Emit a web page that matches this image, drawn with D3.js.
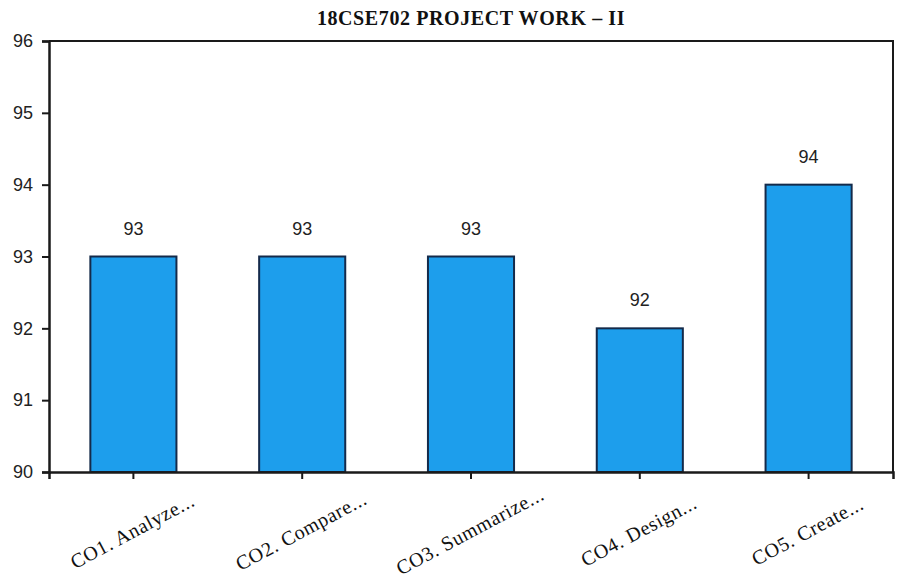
<!DOCTYPE html>
<html>
<head>
<meta charset="utf-8">
<script src="https://cdn.jsdelivr.net/npm/d3@7/dist/d3.min.js"></script>
<style>
  html, body { margin: 0; padding: 0; background: #fff; }
  svg { display: block; }
</style>
</head>
<body>
<svg id="chart" width="899" height="588"></svg>
<script>
const title = "18CSE702 PROJECT WORK \u2013 II";
const categories = ["CO1. Analyze...", "CO2. Compare...", "CO3. Summarize...", "CO4. Design...", "CO5. Create..."];
const values = [93, 93, 93, 92, 94];
const yTicks = [90, 91, 92, 93, 94, 95, 96];
const yDomain = [90, 96];

const svg = d3.select("#chart");
const margin = { left: 49, right: 6, top: 41, bottom: 116 };
const W = 899, H = 588;
const x = d3.scaleBand().domain(categories).range([margin.left, W - margin.right]).paddingInner(0.49).paddingOuter(0.245);
const y = d3.scaleLinear().domain(yDomain).range([H - margin.bottom, margin.top]);

const axisColor = "#1a1a1a";

// bars
svg.append("g").selectAll("rect").data(values).join("rect")
  .attr("x", (d, i) => x(categories[i]))
  .attr("y", d => y(d))
  .attr("width", x.bandwidth())
  .attr("height", d => y(yDomain[0]) - y(d))
  .attr("fill", "#1d9eec")
  .attr("stroke", "#142a4a")
  .attr("stroke-width", 2);

// frame (top/right)
svg.append("path")
  .attr("d", `M${margin.left},${y(96)}H${W - margin.right}V${y(90)}`)
  .attr("fill", "none").attr("stroke", axisColor).attr("stroke-width", 2);

// y axis
const yAxis = svg.append("g").attr("transform", `translate(${margin.left},0)`)
  .call(d3.axisLeft(y).tickValues(yTicks).tickFormat(d3.format("d")).tickSizeOuter(0).tickSize(7).tickPadding(9));
yAxis.select(".domain").attr("stroke", axisColor).attr("stroke-width", 2.5);
yAxis.selectAll(".tick line").attr("stroke", axisColor).attr("stroke-width", 2);
yAxis.selectAll(".tick text").attr("font-family", "'Liberation Sans', Arial, sans-serif")
  .attr("font-size", 18).attr("fill", "#222");

// x axis
const xAxis = svg.append("g").attr("transform", `translate(0,${y(90)})`)
  .call(d3.axisBottom(x).tickSizeOuter(0).tickSize(7).tickFormat(""));
xAxis.select(".domain").attr("stroke", axisColor).attr("stroke-width", 2.5);
xAxis.selectAll(".tick line").attr("stroke", axisColor).attr("stroke-width", 2);

// x labels rotated
svg.append("g").selectAll("text").data(categories).join("text")
  .attr("transform", d => `translate(${x(d) + x.bandwidth() / 2},${y(90) + 61}) rotate(-28)`)
  .attr("text-anchor", "middle")
  .attr("dominant-baseline", "middle")
  .attr("font-family", "'Liberation Serif', 'Times New Roman', serif")
  .attr("font-size", 20)
  .attr("letter-spacing", 0.6)
  .attr("fill", "#111")
  .text(d => d);

// value labels
svg.append("g").selectAll("text").data(values).join("text")
  .attr("x", (d, i) => x(categories[i]) + x.bandwidth() / 2)
  .attr("y", d => y(d) - 22)
  .attr("text-anchor", "middle")
  .attr("font-family", "'Liberation Sans', Arial, sans-serif")
  .attr("font-size", 18)
  .attr("fill", "#222")
  .text(d => d);

// title
svg.append("text")
  .attr("x", 471).attr("y", 25)
  .attr("text-anchor", "middle")
  .attr("font-family", "'Liberation Serif', 'Times New Roman', serif")
  .attr("font-weight", "bold")
  .attr("font-size", 20)
  .attr("letter-spacing", 0.6)
  .attr("fill", "#111")
  .text(title);
</script>
</body>
</html>
